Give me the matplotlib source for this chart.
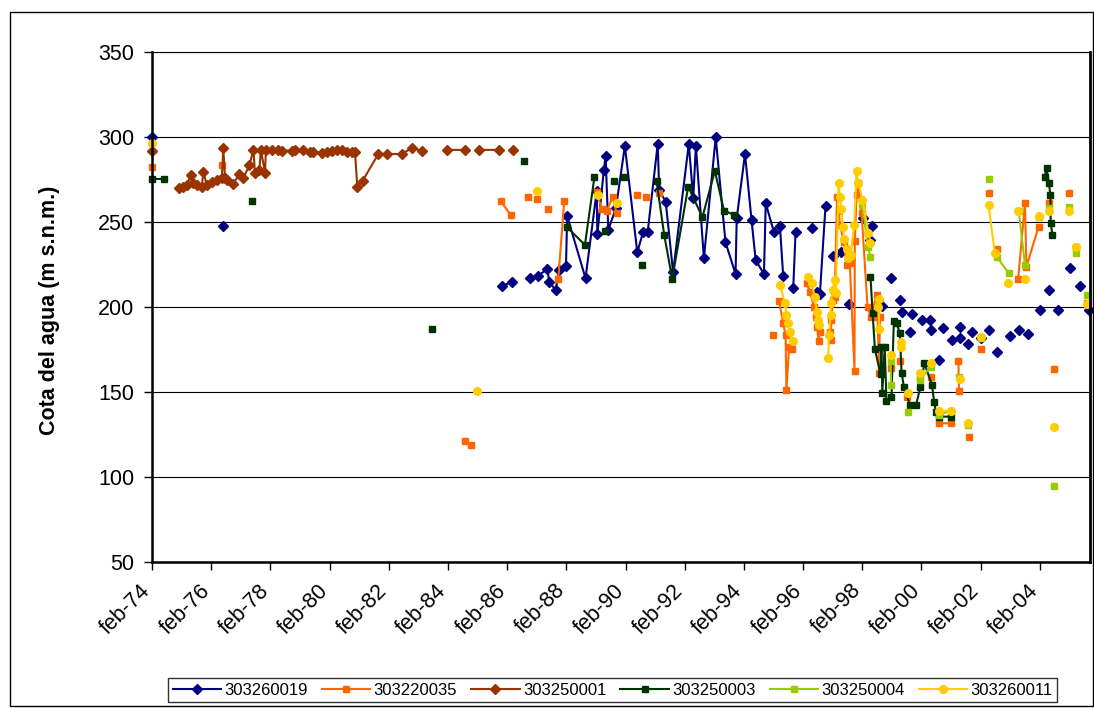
import numpy as np
import matplotlib
matplotlib.use('Agg')
import matplotlib.pyplot as plt
import matplotlib.transforms as mtransforms
from matplotlib.patches import Rectangle

nan = np.nan

# 303260019
nav_x = [1974.07, nan, 1976.49, nan,
         1985.90, 1986.24, nan,
         1986.85, 1987.11, 1987.44, 1987.51, 1987.72, 1987.84, 1988.07, 1988.11, 1988.73, 1989.11,
         1989.13, 1989.35, 1989.41, 1989.50, 1989.76, 1990.06, 1990.48, 1990.68, 1990.83, 1991.17,
         1991.22, 1991.44, 1991.69, 1992.22, 1992.37, 1992.46, 1992.73, 1993.13, 1993.46, 1993.80,
         1993.84, 1994.12, 1994.34, 1994.48, 1994.76, 1994.82, 1995.10, nan,
         1995.30, 1995.41, nan, 1995.75, 1995.83, nan, 1996.37, nan, 1996.54, 1996.65, 1996.84, nan,
         1997.10, nan, 1997.38, nan, 1997.64, nan, 1998.11, nan, 1998.34, 1998.42, nan, 1998.75, nan,
         1999.07, nan, 1999.35, nan, 1999.41, nan, 1999.69, nan, 1999.75, nan, 2000.09, nan,
         2000.37, nan, 2000.42, nan, 2000.68, nan, 2000.82, nan, 2001.10, nan, 2001.38, nan,
         2001.38, nan, 2001.64, nan, 2001.78, nan, 2002.11, nan, 2002.37, nan, 2002.65, nan,
         2003.07, nan, 2003.38, nan, 2003.67, nan, 2004.08, nan, 2004.40, nan, 2004.68, nan,
         2005.10, nan, 2005.43, nan, 2005.75]
nav_y = [300, nan, 247.6, nan,
         212.5, 214.5, nan,
         217.2, 218.4, 222.1, 214.5, 210, 221.8, 223.9, 253.5, 216.9, 268.4,
         242.8, 280.6, 288.8, 245.3, 258.4, 294.7, 232.2, 244.3, 243.9, 295.9,
         268.8, 261.9, 220.4, 295.9, 263.9, 294.7, 228.6, 299.8, 238.1, 219.4,
         252.2, 290, 251.2, 227.6, 219.4, 261, 243.9, nan,
         247.6, 218.2, nan, 211.4, 244.3, nan, 246.7, nan, 209, 207.6, 259.4, nan,
         230, nan, 232.6, nan, 201.8, nan, 252.2, nan, 239.4, 247.6, nan, 200.6, nan,
         217.2, nan, 204.1, nan, 196.9, nan, 185.5, nan, 196.1, nan, 192.4, nan,
         192.4, nan, 186.5, nan, 168.8, nan, 187.8, nan, 180.6, nan, 188, nan,
         181.5, nan, 178.2, nan, 185.5, nan, 181.5, nan, 186.5, nan, 173.7, nan,
         183.1, nan, 186.5, nan, 184.1, nan, 198.2, nan, 210, nan, 198.2, nan,
         223.1, nan, 212.5, nan, 198.2]

# 303220035
ora_x = [1974.07, nan, 1976.46, nan, 1984.66, nan, 1984.85, nan,
         1985.86, 1986.20, nan, 1986.80, nan, 1987.08, nan, 1987.47, nan, 1987.81, 1988.01, nan,
         1989.11, 1989.28, 1989.44, 1989.65, 1989.78, nan, 1990.46, nan, 1990.79, nan, 1991.21, nan,
         1995.05, nan,
         1995.27, 1995.41, 1995.49, 1995.52, 1995.61, 1995.72, nan,
         1996.20, 1996.31, 1996.45, 1996.51, 1996.56, 1996.61, 1996.65, nan,
         1996.99, 1997.01, 1997.04, 1997.08, 1997.15, 1997.23, 1997.28, 1997.33, 1997.46, 1997.55,
         1997.66, 1997.82, 1997.83, 1997.89, 1997.94, 1998.06, 1998.26, 1998.37, 1998.57, 1998.60,
         1998.65, 1998.68, nan,
         1999.05, nan, 1999.35, nan, 1999.58, nan, 2000.03, nan, 2000.39, nan,
         2000.67, 2001.07, nan, 2001.33, 2001.35, nan, 2001.68, nan, 2002.08, nan, 2002.35, nan,
         2002.62, nan, 2003.35, 2003.58, 2003.63, 2004.04, nan, 2004.38, nan, 2004.57, nan,
         2005.06, nan, 2005.32, nan, 2005.66]
ora_y = [282.5, nan, 283.5, nan, 121.4, nan, 118.8, nan,
         262.4, 254.1, nan, 264.7, nan, 263.5, nan, 257.6, nan, 216.5, 262.4, nan,
         267.5, 257.6, 256.5, 264.7, 255.3, nan, 265.9, nan, 264.5, nan, 267.2, nan,
         183.5, nan,
         203.5, 190.4, 183.5, 151.2, 176.7, 175.3, nan,
         214.3, 209, 200.2, 194.3, 188.4, 179.9, 185.5, nan,
         185.5, 180.6, 192.4, 204.1, 206.1, 264.9, 256.5, 248.2, 238.4, 224.7,
         225.7, 162.5, 238.8, 265.9, 272.8, 255.1, 200.2, 194.3, 207.1, 193.9,
         161.4, 194.3, nan,
         163.9, nan, 168.4, nan, 147.2, nan, 159, nan, 159, nan,
         131.6, 131.6, nan, 168.4, 150.8, nan, 123.7, nan, 175.3, nan, 266.9, nan,
         233.9, nan, 216.5, 261, 223.7, 247.2, nan, 261.4, nan, 163.5, nan,
         266.9, nan, 235.5, nan, 202.2]

# 303250001
bro_x = [1974.07, nan,
         1975.00, 1975.12, 1975.26, 1975.39, 1975.48, 1975.61, 1975.76, 1975.82, 1975.93, 1976.10,
         1976.27, 1976.44, 1976.49, 1976.55, 1976.63, 1976.83, 1977.03, 1977.17, 1977.37, 1977.51,
         1977.56, 1977.71, 1977.76, 1977.90, 1977.93, 1978.13,
         1978.35, 1978.46, 1978.80, 1978.91, 1979.19, 1979.42, 1979.53, 1979.82, 1979.99, 1980.15,
         1980.32, 1980.49, 1980.66, 1980.83, 1980.94,
         1981.02, 1981.20, 1981.73, 1982.01, 1982.52, 1982.86, 1983.19, nan,
         1984.04, 1984.66, nan, 1985.14, 1985.82, nan, 1986.29]
bro_y = [292, nan,
         269.8, 270.8, 271.8, 277.6, 272.8, 271.8, 270.8, 279.2, 271.8, 273.7,
         274.7, 275.7, 293.4, 275.7, 274.5, 272.4, 278.2, 275.7, 283.5, 292.4,
         278.6, 280.6, 292.4, 279, 292.4, 292.4,
         292.4, 292, 292, 292.4, 292.4, 291.4, 291.4, 290.5, 291.4, 292,
         292.4, 292.4, 291.4, 291.4, 291,
         270.8, 274.3, 290, 290, 290, 293.4, 292, nan,
         292.4, 292.4, nan, 292.4, 292.4, nan, 292.4]

# 303250003
dgr_x = [1974.07, 1974.49, nan, 1977.47, nan, 1983.55, nan, 1986.66, nan,
         1988.09, 1988.71, 1989.03, nan, 1989.39, nan, 1989.70, nan, 1990.04, nan, 1990.65, nan,
         1991.13, 1991.39, 1991.66, 1992.20, 1992.68, 1993.10, 1993.41, 1993.76, nan,
         1998.36, 1998.43, 1998.51, 1998.70, 1998.73, 1998.76, 1998.84, 1998.90, 1999.07, 1999.15,
         1999.24, 1999.35, 1999.41, 1999.49, 1999.69, 1999.90, 2000.05, 2000.18, 2000.44, 2000.51,
         2000.57, 2000.67, 2001.07, nan,
         2004.25, 2004.31, 2004.39, 2004.44, 2004.45, 2004.51]
dgr_y = [275.3, 275.3, nan, 262.4, nan, 187.1, nan, 285.9, nan,
         247.2, 236.5, 276.3, nan, 244.7, nan, 274.1, nan, 276.3, nan, 224.7, nan,
         274.1, 242.4, 216.5, 270.8, 252.8, 280, 256.7, 254.1, nan,
         217.8, 196.7, 175.1, 160.4, 176.7, 149.6, 176.7, 144.9, 147.2, 191.9,
         190.4, 184.9, 161.4, 153.1, 142.4, 142.4, 153.1, 166.9, 154.1, 144.3,
         138.4, 135.5, 135.5, nan,
         276.6, 281.6, 272.7, 265.9, 249.2, 242.4]

# 303250004
ygr_x = [1998.09, 1998.27, 1998.36, nan, 1999.04, 1999.06, nan, 1999.63, nan,
         2000.03, 2000.39, nan, 2000.66, 2001.07, nan, 2001.34, nan, 2001.67, nan, 2002.08, nan,
         2002.35, nan, 2002.62, 2003.04, nan, 2003.37, 2003.58, nan, 2004.04, nan, 2004.38, nan,
         2004.57, nan, 2005.06, nan, 2005.32, nan, 2005.66]
ygr_y = [260, 235.1, 229.6, nan, 168.4, 154.1, nan, 138, nan,
         157, 164.9, nan, 136.5, 139, nan, 159, nan, 130.6, nan, 181.5, nan,
         275.1, nan, 229.6, 219.8, nan, 256.5, 224.7, nan, 253.1, nan, 258, nan,
         94.5, nan, 258.6, nan, 231.6, nan, 207.1]

# 303260011
gol_x = [1974.07, nan, 1985.05, nan, 1987.08, nan, 1989.16, nan, 1989.78, nan,
         1995.30, 1995.47, 1995.52, 1995.56, 1995.64, 1995.73, nan,
         1996.25, 1996.37, 1996.48, 1996.54, 1996.57, 1996.61, nan,
         1996.93, 1996.96, 1997.01, 1997.02, 1997.08, 1997.15, 1997.19, 1997.28, 1997.33, 1997.38,
         1997.42, 1997.47, 1997.55, 1997.61, 1997.69, 1997.81, 1997.89, 1997.95, 1998.09, 1998.29,
         1998.36, nan, 1998.60, 1998.64, 1998.65, nan, 1999.04, nan, 1999.39, 1999.40, nan,
         1999.63, nan, 2000.05, nan, 2000.39, nan, 2000.67, 2001.07, nan, 2001.40, nan, 2001.67, nan,
         2002.08, nan, 2002.35, 2002.56, nan, 2003.02, nan, 2003.36, nan, 2003.58, nan, 2004.04, nan,
         2004.38, nan, 2004.57, nan, 2005.06, nan, 2005.32, nan, 2005.66]
gol_y = [296.3, nan, 150.8, nan, 268.2, nan, 265.9, nan, 261.4, nan,
         212.9, 202.2, 195.3, 190.8, 185.5, 180.2, nan,
         217.8, 213.9, 206.1, 197.3, 192.4, 189.4, nan,
         169.8, 183.5, 195.3, 202.2, 210, 215.9, 208.4, 272.8, 264.9, 257.5,
         247.2, 239.8, 233.9, 228.6, 230.6, 248.2, 280, 272.8, 262.9, 243.7,
         237.8, nan, 200.2, 204.5, 187, nan, 171.8, nan, 179.6, 176.7, nan,
         149.4, nan, 161.4, nan, 167.3, nan, 138.8, 139, nan, 157.6, nan, 131.6, nan,
         182.5, nan, 260, 231.9, nan, 214.3, nan, 256.5, nan, 216.5, nan, 253.5, nan,
         256.5, nan, 129.6, nan, 256.5, nan, 235.5, nan, 201.6]

# axis ticks every two years, starting feb-74
year_ticks = list(range(1974, 2005, 2))
tick_labels = ['feb-%02d' % (y % 100) for y in year_ticks]

plt.rcParams['font.family'] = ['Liberation Sans', 'DejaVu Sans']

fig = plt.figure(figsize=(10.94, 7.08), dpi=100)
ax = fig.add_axes([0.139, 0.2062, 0.8574, 0.7204])

series = [
    ('303260019', nav_x, nav_y, '#000080', 'D', 4.6),
    ('303220035', ora_x, ora_y, '#FF6600', 's', 5.0),
    ('303250001', bro_x, bro_y, '#993300', 'D', 4.6),
    ('303250003', dgr_x, dgr_y, '#003300', 's', 5.0),
    ('303250004', ygr_x, ygr_y, '#99CC00', 's', 5.0),
    ('303260011', gol_x, gol_y, '#FFCC00', 'o', 5.5),
]
for name, xs, ys, col, mk, ms in series:
    ax.plot(np.array(xs, dtype=float), np.array(ys, dtype=float), color=col, marker=mk,
            markersize=ms, markeredgecolor=col, lw=1.5, label=name, clip_on=False)

ax.set_xlim(1974.083, 2005.78)
ax.set_ylim(50, 350)
ax.set_yticks(range(50, 351, 50))
ax.set_xticks([y + 1.0 / 12 for y in year_ticks])
ax.set_xticklabels(tick_labels, rotation=45, ha='right', va='top', rotation_mode='anchor')
ax.tick_params(axis='both', direction='out', length=6, width=1, labelsize=15.5, color='black')
ax.tick_params(axis='y', pad=7)
ax.tick_params(axis='x', pad=7)
shift = mtransforms.ScaledTranslation(-12 / 100, 0, fig.dpi_scale_trans)
for lab in ax.get_xticklabels():
    lab.set_transform(lab.get_transform() + shift)

ax.yaxis.grid(True, color='black', lw=0.8)
ax.set_axisbelow(True)
for s in ['left', 'bottom']:
    ax.spines[s].set_linewidth(1.8)
ax.spines['right'].set_linewidth(2)
ax.spines['top'].set_linewidth(0.8)

ax.set_ylabel('Cota del agua (m s.n.m.)', fontsize=15.5, fontweight='bold')
ax.yaxis.set_label_coords(-0.098, 0.494)

leg = fig.legend(loc='center', bbox_to_anchor=(0.560, 0.0254), ncol=6, frameon=True,
                 fancybox=False, edgecolor='black', handlelength=2.9, handletextpad=0.2,
                 columnspacing=0.85, borderpad=0.25, prop={'size': 12})
leg.get_frame().set_linewidth(1.0)

fig.patches.append(Rectangle((0.009, 0.003), 0.99, 0.980, transform=fig.transFigure,
                             fill=False, edgecolor='black', lw=1.0))

fig.savefig('out.png', dpi=100)
